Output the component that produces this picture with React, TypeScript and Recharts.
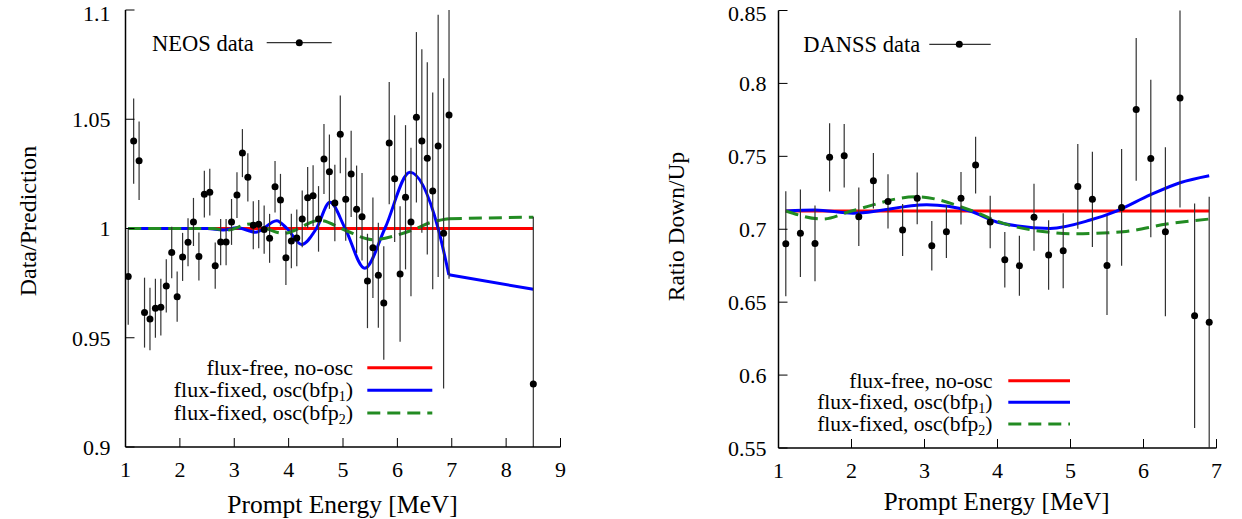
import React from 'react';
import { ComposedChart, Line, Scatter, ErrorBar, XAxis, YAxis } from 'recharts';

const FONT = '"Liberation Serif", "Times New Roman", serif';

// ---------- NEOS (left panel) ----------
const neosEnergy = [1.05, 1.15, 1.25, 1.35, 1.45, 1.55, 1.65, 1.75, 1.85, 1.95, 2.05, 2.15, 2.25, 2.35, 2.45, 2.55, 2.65, 2.75, 2.85, 2.95, 3.05, 3.15, 3.25, 3.35, 3.45, 3.55, 3.65, 3.75, 3.85, 3.95, 4.05, 4.15, 4.25, 4.35, 4.45, 4.55, 4.65, 4.75, 4.85, 4.95, 5.05, 5.15, 5.25, 5.35, 5.45, 5.55, 5.65, 5.75, 5.85, 5.95, 6.05, 6.15, 6.25, 6.35, 6.45, 6.55, 6.65, 6.75, 6.85, 6.95, 8.5];
const neosRatio = [0.978, 1.040, 1.031, 0.9615, 0.9586, 0.9635, 0.964, 0.9737, 0.989, 0.9688, 0.987, 0.9937, 1.003, 0.9872, 1.0157, 1.0166, 0.983, 0.9938, 0.9938, 1.003, 1.0153, 1.0345, 1.0234, 1.0015, 1.002, 0.9995, 0.9955, 1.0191, 1.013, 0.9866, 0.9943, 0.9957, 1.0044, 1.0141, 1.015, 1.0044, 1.0318, 1.026, 1.0117, 1.0431, 1.0134, 1.025, 1.0088, 1.0054, 0.976, 0.9912, 0.9786, 0.9659, 1.0391, 1.0228, 0.9792, 1.0143, 1.003, 1.0509, 1.040, 1.0321, 1.0172, 1.0378, 0.9978, 1.052, 0.9288];
const neosError = [0.022, 0.0195, 0.018, 0.016, 0.0143, 0.0135, 0.013, 0.0122, 0.0118, 0.0115, 0.011, 0.011, 0.011, 0.011, 0.0107, 0.0107, 0.0106, 0.0106, 0.0106, 0.0105, 0.0105, 0.011, 0.011, 0.011, 0.011, 0.011, 0.0112, 0.0118, 0.012, 0.0125, 0.0125, 0.013, 0.013, 0.014, 0.014, 0.015, 0.016, 0.017, 0.0175, 0.0178, 0.019, 0.0197, 0.02, 0.02, 0.0216, 0.023, 0.024, 0.026, 0.028, 0.029, 0.031, 0.033, 0.034, 0.039, 0.042, 0.044, 0.045, 0.06, 0.071, 0.075, 0.0766];

const neosNoOscX = [1.05, 8.5];
const neosNoOscY = [1.0, 1.0];
const neosBfp1X = [1.05, 2.5, 2.8, 3.05, 3.4, 3.78, 3.97, 4.24, 4.51, 4.76, 5.04, 5.40, 5.77, 6.23, 6.75, 6.947];
const neosBfp1Y = [1.0, 1.0, 0.9993, 1.0003, 0.9983, 1.0036, 1.0, 0.9927, 1.0, 1.012, 1.0, 0.9818, 1.0, 1.0257, 1.0, 0.9788];
const neosBfp1TailX = [6.947, 8.5];
const neosBfp1TailY = [0.9788, 0.9722];
const neosBfp2X = [1.05, 2.6, 2.85, 3.3, 3.9, 4.58, 5.03, 5.55, 6.0, 6.35, 6.6, 6.947];
const neosBfp2Y = [1.0, 1.0, 0.9992, 1.0021, 0.9978, 1.0037, 0.9993, 0.9949, 0.997, 1.0, 1.0027, 1.0045];
const neosBfp2TailX = [6.947, 8.5];
const neosBfp2TailY = [1.0045, 1.0052];

const neosXTicks = [1, 2, 3, 4, 5, 6, 7, 8, 9];
const neosYTicks = [0.9, 0.95, 1, 1.05, 1.1];

// ---------- DANSS (right panel) ----------
const danssEnergy = [1.1, 1.3, 1.5, 1.7, 1.9, 2.1, 2.3, 2.5, 2.7, 2.9, 3.1, 3.3, 3.5, 3.7, 3.9, 4.1, 4.3, 4.5, 4.7, 4.9, 5.1, 5.3, 5.5, 5.7, 5.9, 6.1, 6.3, 6.5, 6.7, 6.9];
const danssRatio = [0.690, 0.6972, 0.6903, 0.7493, 0.7504, 0.7086, 0.7333, 0.7191, 0.6995, 0.7212, 0.6887, 0.6983, 0.7212, 0.744, 0.7049, 0.6791, 0.675, 0.7082, 0.6823, 0.6853, 0.7294, 0.7205, 0.6752, 0.715, 0.7822, 0.7486, 0.6983, 0.790, 0.6407, 0.6363];
const danssError = [0.036, 0.030, 0.026, 0.0234, 0.0217, 0.020, 0.019, 0.0186, 0.0178, 0.0177, 0.017, 0.018, 0.018, 0.0194, 0.018, 0.019, 0.0206, 0.023, 0.0238, 0.0257, 0.029, 0.0327, 0.034, 0.040, 0.049, 0.054, 0.058, 0.075, 0.077, 0.086];

const danssNoOscX = [1.1, 6.9];
const danssNoOscY = [0.7125, 0.7125];
const danssBfp1X = [1.1, 1.5, 2.02, 3.03, 3.62, 4.03, 4.72, 5.27, 5.63, 6.09, 6.5, 6.9];
const danssBfp1Y = [0.7125, 0.7132, 0.711, 0.7168, 0.7125, 0.7045, 0.7006, 0.7063, 0.7125, 0.7235, 0.7319, 0.7367];
const danssBfp2X = [1.1, 1.61, 2.0, 2.89, 3.66, 4.08, 4.72, 5.03, 5.72, 6.32, 6.9];
const danssBfp2Y = [0.7125, 0.707, 0.7125, 0.7223, 0.7125, 0.704, 0.6979, 0.6969, 0.6983, 0.7036, 0.707];

const danssXTicks = [1, 2, 3, 4, 5, 6, 7];
const danssYTicks = [0.55, 0.6, 0.65, 0.7, 0.75, 0.8, 0.85];

// ---------- helpers ----------
const toXY = (xs: number[], ys: number[]) => xs.map((x, i) => ({ x, y: ys[i] }));
// error bars are cut at the frame, as in the reference
const toPts = (xs: number[], ys: number[], es: number[], lo: number, hi: number) =>
  xs.map((x, i) => ({
    x,
    y: ys[i],
    err: [Math.min(es[i], ys[i] - lo), Math.min(es[i], hi - ys[i])],
  }));

const neosPoints = toPts(neosEnergy, neosRatio, neosError, 0.9, 1.1);
const danssPoints = toPts(danssEnergy, danssRatio, danssError, 0.55, 0.85);

const RED = '#ff0000';
const BLUE = '#0000ff';
const GREEN = '#228b22';
const DASH = '13 7';

const tickStyle = { fill: '#000', fontSize: 22, fontFamily: FONT };
const axisLineStyle = { stroke: '#000', strokeWidth: 1.5 };
const tickLineStyle = { stroke: '#000', strokeWidth: 1 };
const blank = () => '';

const Dot = (props: any) => {
  const { cx, cy } = props;
  if (cx == null || cy == null) return null;
  return <circle cx={cx} cy={cy} r={3.5} fill="#000" />;
};

type PanelProps = {
  width: number;
  height: number;
  margin: { top: number; right: number; bottom: number; left: number };
  yAxisWidth: number;
  xAxisHeight: number;
  xDomain: [number, number];
  yDomain: [number, number];
  xTicks: number[];
  yTicks: number[];
  yTickMargin: number;
  points: { x: number; y: number; err: number[] }[];
  curves: { data: { x: number; y: number }[]; color: string; dashed?: boolean; smooth?: boolean; key: string }[];
};

function Panel(p: PanelProps) {
  return (
    <ComposedChart width={p.width} height={p.height} margin={p.margin}>
      <XAxis
        xAxisId="bottom"
        dataKey="x"
        type="number"
        domain={p.xDomain}
        ticks={p.xTicks}
        allowDataOverflow
        height={p.xAxisHeight}
        tick={tickStyle}
        tickSize={-9}
        tickMargin={23.4}
        axisLine={axisLineStyle}
        tickLine={tickLineStyle}
      />
      <XAxis
        xAxisId="top"
        orientation="top"
        dataKey="x"
        type="number"
        domain={p.xDomain}
        ticks={p.xTicks}
        allowDataOverflow
        height={0}
        tickFormatter={blank}
        tickSize={-9}
        axisLine={axisLineStyle}
        tickLine={tickLineStyle}
      />
      <YAxis
        yAxisId="left"
        type="number"
        domain={p.yDomain}
        ticks={p.yTicks}
        allowDataOverflow
        width={p.yAxisWidth}
        tick={tickStyle}
        tickSize={-9}
        tickMargin={p.yTickMargin}
        axisLine={axisLineStyle}
        tickLine={tickLineStyle}
      />
      <YAxis
        yAxisId="right"
        orientation="right"
        type="number"
        domain={p.yDomain}
        ticks={p.yTicks}
        allowDataOverflow
        width={0}
        tickFormatter={blank}
        tickSize={-9}
        axisLine={axisLineStyle}
        tickLine={tickLineStyle}
      />
      {p.curves.map((c) => (
        <Line
          key={c.key}
          xAxisId="bottom"
          yAxisId="left"
          data={c.data}
          dataKey="y"
          type={c.smooth ? 'monotone' : 'linear'}
          stroke={c.color}
          strokeWidth={3}
          strokeDasharray={c.dashed ? DASH : undefined}
          dot={false}
          activeDot={false}
          legendType="none"
          isAnimationActive={false}
        />
      ))}
      <Scatter
        xAxisId="bottom"
        yAxisId="left"
        data={p.points}
        dataKey="y"
        shape={<Dot />}
        legendType="none"
        isAnimationActive={false}
      >
        <ErrorBar dataKey="err" direction="y" width={0} stroke="#333" strokeWidth={1.2} isAnimationActive={false} />
      </Scatter>
    </ComposedChart>
  );
}

const Sub = ({ main, sub }: { main: string; sub: string }) => (
  <>
    <tspan>{main}</tspan>
    <tspan fontSize={14} dy={4}>{sub}</tspan>
    <tspan dy={-4}>)</tspan>
  </>
);

export default function App() {
  const neosCurves = [
    { key: 'n0', data: toXY(neosNoOscX, neosNoOscY), color: RED },
    { key: 'n1', data: toXY(neosBfp1X, neosBfp1Y), color: BLUE, smooth: true },
    { key: 'n1t', data: toXY(neosBfp1TailX, neosBfp1TailY), color: BLUE },
    { key: 'n2', data: toXY(neosBfp2X, neosBfp2Y), color: GREEN, dashed: true, smooth: true },
    { key: 'n2t', data: toXY(neosBfp2TailX, neosBfp2TailY), color: GREEN, dashed: true },
  ];
  const danssCurves = [
    { key: 'd0', data: toXY(danssNoOscX, danssNoOscY), color: RED },
    { key: 'd1', data: toXY(danssBfp1X, danssBfp1Y), color: BLUE, smooth: true },
    { key: 'd2', data: toXY(danssBfp2X, danssBfp2Y), color: GREEN, dashed: true, smooth: true },
  ];

  const legendRows = [
    { color: RED, dashed: false, label: <tspan>flux-free, no-osc</tspan> },
    { color: BLUE, dashed: false, label: <Sub main="flux-fixed, osc(bfp" sub="1" /> },
    { color: GREEN, dashed: true, label: <Sub main="flux-fixed, osc(bfp" sub="2" /> },
  ];

  return (
    <div style={{ position: 'absolute', left: 0, top: 0, width: 1242, height: 519, background: '#fff', fontFamily: FONT }}>
      <div style={{ position: 'absolute', left: 0, top: 0 }}>
        <Panel
          width={620}
          height={519}
          margin={{ top: 10, right: 59.5, bottom: 0, left: 0 }}
          yAxisWidth={125.5}
          xAxisHeight={72}
          xDomain={[1, 9]}
          yDomain={[0.9, 1.1]}
          xTicks={neosXTicks}
          yTicks={neosYTicks}
          yTickMargin={24}
          points={neosPoints}
          curves={neosCurves}
        />
      </div>
      <div style={{ position: 'absolute', left: 620, top: 0 }}>
        <Panel
          width={622}
          height={519}
          margin={{ top: 10.5, right: 25.5, bottom: 0, left: 0 }}
          yAxisWidth={158.5}
          xAxisHeight={71}
          xDomain={[1, 7]}
          yDomain={[0.55, 0.85]}
          xTicks={danssXTicks}
          yTicks={danssYTicks}
          yTickMargin={21}
          points={danssPoints}
          curves={danssCurves}
        />
      </div>
      <svg
        width={1242}
        height={519}
        style={{ position: 'absolute', left: 0, top: 0, pointerEvents: 'none' }}
        fontFamily={FONT}
      >
        {/* axis titles */}
        <text x={342.5} y={513} textAnchor="middle" fontSize={25.5} fill="#000">Prompt Energy [MeV]</text>
        <text x={996.7} y={510} textAnchor="middle" fontSize={25} fill="#000">Prompt Energy [MeV]</text>
        <text transform="translate(36,221) rotate(-90)" textAnchor="middle" fontSize={24} fill="#000">Data/Prediction</text>
        <text transform="translate(684,226.5) rotate(-90)" textAnchor="middle" fontSize={23.5} fill="#000">Ratio Down/Up</text>

        {/* NEOS data key */}
        <text x={152} y={50.5} fontSize={22.5} fill="#000">NEOS data</text>
        <line x1={266.7} x2={331.7} y1={42.7} y2={42.7} stroke="#333" strokeWidth={1.2} />
        <circle cx={299.3} cy={42.7} r={3.5} fill="#000" />

        {/* DANSS data key */}
        <text x={803.3} y={52} fontSize={22.5} fill="#000">DANSS data</text>
        <line x1={929.3} x2={990.7} y1={44.3} y2={44.3} stroke="#333" strokeWidth={1.2} />
        <circle cx={959.3} cy={44.3} r={3.5} fill="#000" />

        {/* NEOS curve key */}
        {legendRows.map((r, i) => {
          const y = [367.7, 390.3, 413][i];
          return (
            <g key={'nl' + i}>
              <text x={353} y={y + 6.8} textAnchor="end" fontSize={22} fill="#000">{r.label}</text>
              <line x1={367.3} x2={432.3} y1={y} y2={y} stroke={r.color} strokeWidth={3} strokeDasharray={r.dashed ? DASH : undefined} />
            </g>
          );
        })}

        {/* DANSS curve key */}
        {legendRows.map((r, i) => {
          const y = [380.7, 402.3, 424][i];
          return (
            <g key={'dl' + i}>
              <text x={992.5} y={y + 7} textAnchor="end" fontSize={21.5} fill="#000">{r.label}</text>
              <line x1={1008.3} x2={1070} y1={y} y2={y} stroke={r.color} strokeWidth={3} strokeDasharray={r.dashed ? DASH : undefined} />
            </g>
          );
        })}
      </svg>
    </div>
  );
}
